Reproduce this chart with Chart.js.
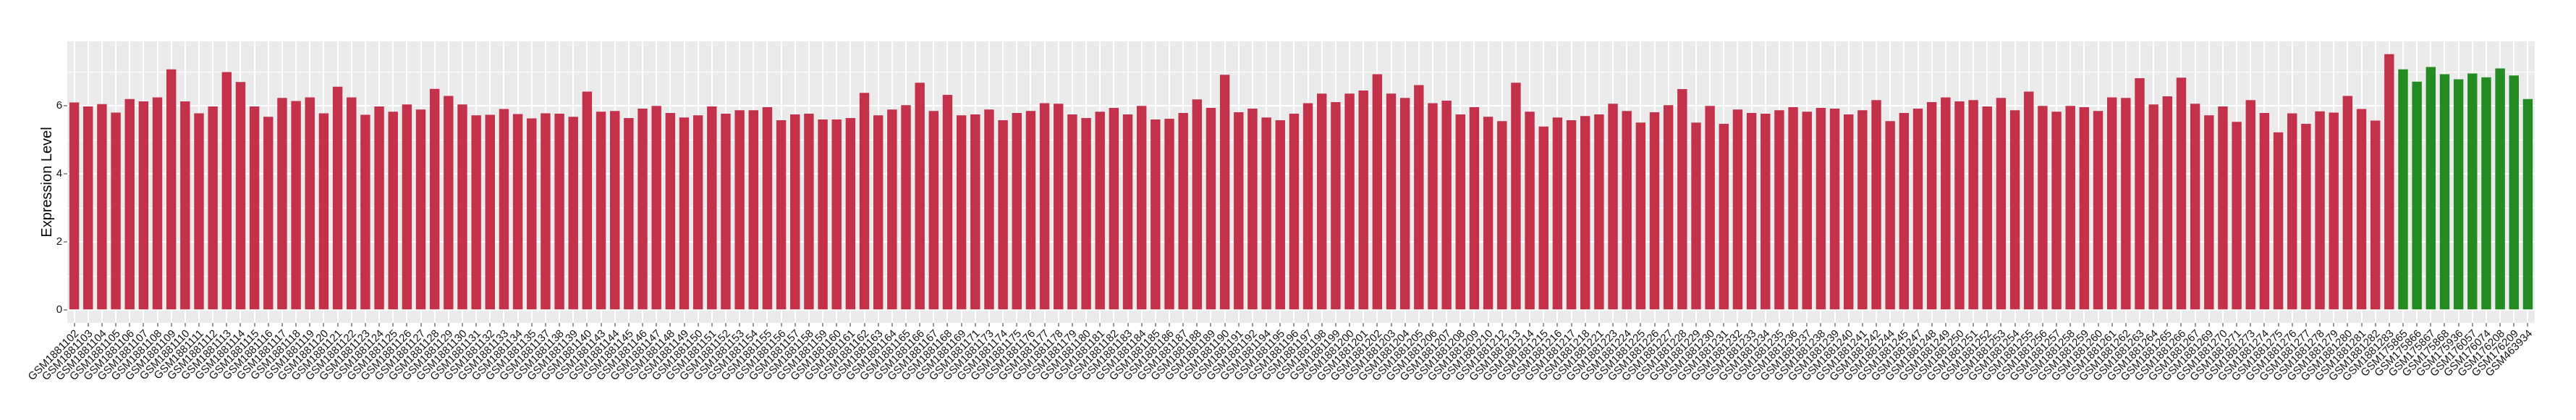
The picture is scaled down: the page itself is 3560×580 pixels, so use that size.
<!DOCTYPE html>
<html>
<head>
<meta charset="utf-8">
<script src="https://cdn.jsdelivr.net/npm/chart.js@4"></script>
<style>
  html, body { margin: 0; padding: 0; background: #ffffff; }
  #wrap { width: 3560px; height: 580px; }
</style>
</head>
<body>
<div id="wrap"><canvas id="chart" width="3560" height="580"></canvas></div>
<script>
// sample ids, group 1 (red)
const redSamples = [
  'GSM1881102','GSM1881103','GSM1881104','GSM1881105','GSM1881106','GSM1881107','GSM1881108','GSM1881109','GSM1881110','GSM1881111',
  'GSM1881112','GSM1881113','GSM1881114','GSM1881115','GSM1881116','GSM1881117','GSM1881118','GSM1881119','GSM1881120','GSM1881121',
  'GSM1881122','GSM1881123','GSM1881124','GSM1881125','GSM1881126','GSM1881127','GSM1881128','GSM1881129','GSM1881130','GSM1881131',
  'GSM1881132','GSM1881133','GSM1881134','GSM1881135','GSM1881137','GSM1881138','GSM1881139','GSM1881140','GSM1881143','GSM1881144',
  'GSM1881145','GSM1881146','GSM1881147','GSM1881148','GSM1881149','GSM1881150','GSM1881151','GSM1881152','GSM1881153','GSM1881154',
  'GSM1881155','GSM1881156','GSM1881157','GSM1881158','GSM1881159','GSM1881160','GSM1881161','GSM1881162','GSM1881163','GSM1881164',
  'GSM1881165','GSM1881166','GSM1881167','GSM1881168','GSM1881169','GSM1881171','GSM1881173','GSM1881174','GSM1881175','GSM1881176',
  'GSM1881177','GSM1881178','GSM1881179','GSM1881180','GSM1881181','GSM1881182','GSM1881183','GSM1881184','GSM1881185','GSM1881186',
  'GSM1881187','GSM1881188','GSM1881189','GSM1881190','GSM1881191','GSM1881192','GSM1881194','GSM1881195','GSM1881196','GSM1881197',
  'GSM1881198','GSM1881199','GSM1881200','GSM1881201','GSM1881202','GSM1881203','GSM1881204','GSM1881205','GSM1881206','GSM1881207',
  'GSM1881208','GSM1881209','GSM1881210','GSM1881212','GSM1881213','GSM1881214','GSM1881215','GSM1881216','GSM1881217','GSM1881218',
  'GSM1881221','GSM1881223','GSM1881224','GSM1881225','GSM1881226','GSM1881227','GSM1881228','GSM1881229','GSM1881230','GSM1881231',
  'GSM1881232','GSM1881233','GSM1881234','GSM1881235','GSM1881236','GSM1881237','GSM1881238','GSM1881239','GSM1881240','GSM1881241',
  'GSM1881242','GSM1881244','GSM1881245','GSM1881247','GSM1881248','GSM1881249','GSM1881250','GSM1881251','GSM1881252','GSM1881253',
  'GSM1881254','GSM1881255','GSM1881256','GSM1881257','GSM1881258','GSM1881259','GSM1881260','GSM1881261','GSM1881262','GSM1881263',
  'GSM1881264','GSM1881265','GSM1881266','GSM1881267','GSM1881269','GSM1881270','GSM1881271','GSM1881273','GSM1881274','GSM1881275',
  'GSM1881276','GSM1881277','GSM1881278','GSM1881279','GSM1881280','GSM1881281','GSM1881282','GSM1881283'
];
const redValues = [
  6.10, 5.98, 6.05, 5.80, 6.20, 6.13, 6.25, 7.07, 6.13, 5.78,
  5.98, 6.99, 6.70, 5.98, 5.68, 6.23, 6.14, 6.25, 5.78, 6.56,
  6.25, 5.74, 5.98, 5.83, 6.04, 5.89, 6.50, 6.29, 6.04, 5.72,
  5.74, 5.91, 5.76, 5.63, 5.78, 5.77, 5.68, 6.42, 5.83, 5.85,
  5.64, 5.92, 6.00, 5.79, 5.66, 5.72, 5.98, 5.77, 5.87, 5.87,
  5.96, 5.58, 5.75, 5.77, 5.60, 5.60, 5.64, 6.38, 5.72, 5.89,
  6.02, 6.68, 5.85, 6.32, 5.72, 5.75, 5.89, 5.58, 5.79, 5.85,
  6.08, 6.06, 5.75, 5.64, 5.83, 5.94, 5.75, 6.00, 5.60, 5.62,
  5.79, 6.19, 5.94, 6.91, 5.81, 5.92, 5.66, 5.58, 5.77, 6.08,
  6.36, 6.11, 6.36, 6.45, 6.93, 6.36, 6.23, 6.61, 6.08, 6.15,
  5.75, 5.96, 5.68, 5.55, 6.68, 5.83, 5.39, 5.66, 5.58, 5.70,
  5.75, 6.06, 5.85, 5.51, 5.81, 6.02, 6.49, 5.51, 6.00, 5.47,
  5.89, 5.79, 5.77, 5.87, 5.96, 5.83, 5.94, 5.92, 5.75, 5.87,
  6.17, 5.55, 5.79, 5.92, 6.11, 6.25, 6.13, 6.17, 5.98, 6.23,
  5.87, 6.42, 6.00, 5.83, 6.00, 5.96, 5.85, 6.25, 6.23, 6.81,
  6.04, 6.28, 6.83, 6.06, 5.72, 5.98, 5.53, 6.17, 5.79, 5.22,
  5.78, 5.47, 5.84, 5.80, 6.29, 5.91, 5.57, 7.52
];

// sample ids, group 2 (green)
const greenSamples = [
  'GSM175865','GSM175866','GSM175867','GSM175868','GSM175936',
  'GSM176057','GSM176074','GSM176208','GSM176209','GSM463934'
];
const greenValues = [7.07, 6.71, 7.14, 6.93, 6.78, 6.95, 6.84, 7.10, 6.89, 6.20];

const yTicks = [0, 2, 4, 6];

const RED = '#C3314A';
const GREEN = '#228B22';
const FONT = "'Liberation Sans', Arial, sans-serif";

const labels = redSamples.concat(greenSamples);
const values = redValues.concat(greenValues);
const colors = redSamples.map(() => RED).concat(greenSamples.map(() => GREEN));

// grey panel behind the bars
const panelBg = {
    id: 'panelBg',
    beforeDraw(chart) {
        const { ctx, chartArea: a } = chart;
        ctx.save();
        ctx.fillStyle = '#ffffff';
        ctx.fillRect(0, 0, chart.width, chart.height);
        ctx.fillStyle = '#EBEBEB';
        ctx.fillRect(a.left, a.top, a.right - a.left, a.bottom - a.top);
        ctx.restore();
    }
};

const isMajor = v => yTicks.includes(v);

new Chart(document.getElementById('chart'), {
    type: 'bar',
    data: {
        labels: labels,
        datasets: [{
            data: values,
            backgroundColor: colors,
            borderWidth: 0,
            barPercentage: 0.7,
            categoryPercentage: 1.0
        }]
    },
    options: {
        responsive: false,
        animation: false,
        layout: { padding: { top: 57, right: 57, bottom: 0, left: 0 } },
        plugins: {
            legend: { display: false },
            tooltip: { enabled: false }
        },
        scales: {
            x: {
                offset: true,
                border: { display: false },
                grid: {
                    offset: false,
                    color: '#ffffff',
                    lineWidth: 2,
                    tickColor: '#333333',
                    tickLength: 5,
                    tickWidth: 1
                },
                ticks: {
                    autoSkip: false,
                    minRotation: 45,
                    maxRotation: 45,
                    padding: 1,
                    labelOffset: 4,
                    color: '#111111',
                    font: { family: FONT, size: 15 }
                },
                afterFit(scale) { scale.height = 134; }
            },
            y: {
                min: -0.376,
                max: 7.896,
                border: { display: false },
                grid: {
                    color: '#ffffff',
                    lineWidth: ctx => isMajor(ctx.tick.value) ? 2 : 1,
                    tickColor: ctx => isMajor(ctx.tick.value) ? '#333333' : 'rgba(0,0,0,0)',
                    tickLength: 5,
                    tickWidth: 1
                },
                ticks: {
                    stepSize: 1,
                    includeBounds: false,
                    padding: 2,
                    color: '#111111',
                    font: { family: FONT, size: 15 },
                    callback: v => isMajor(v) ? v : ''
                },
                title: {
                    display: true,
                    text: 'Expression Level',
                    color: '#000000',
                    font: { family: FONT, size: 20 },
                    padding: { top: 53, bottom: 0 }
                },
                afterFit(scale) { scale.width = 93; }
            }
        }
    },
    plugins: [panelBg]
});
</script>
</body>
</html>
